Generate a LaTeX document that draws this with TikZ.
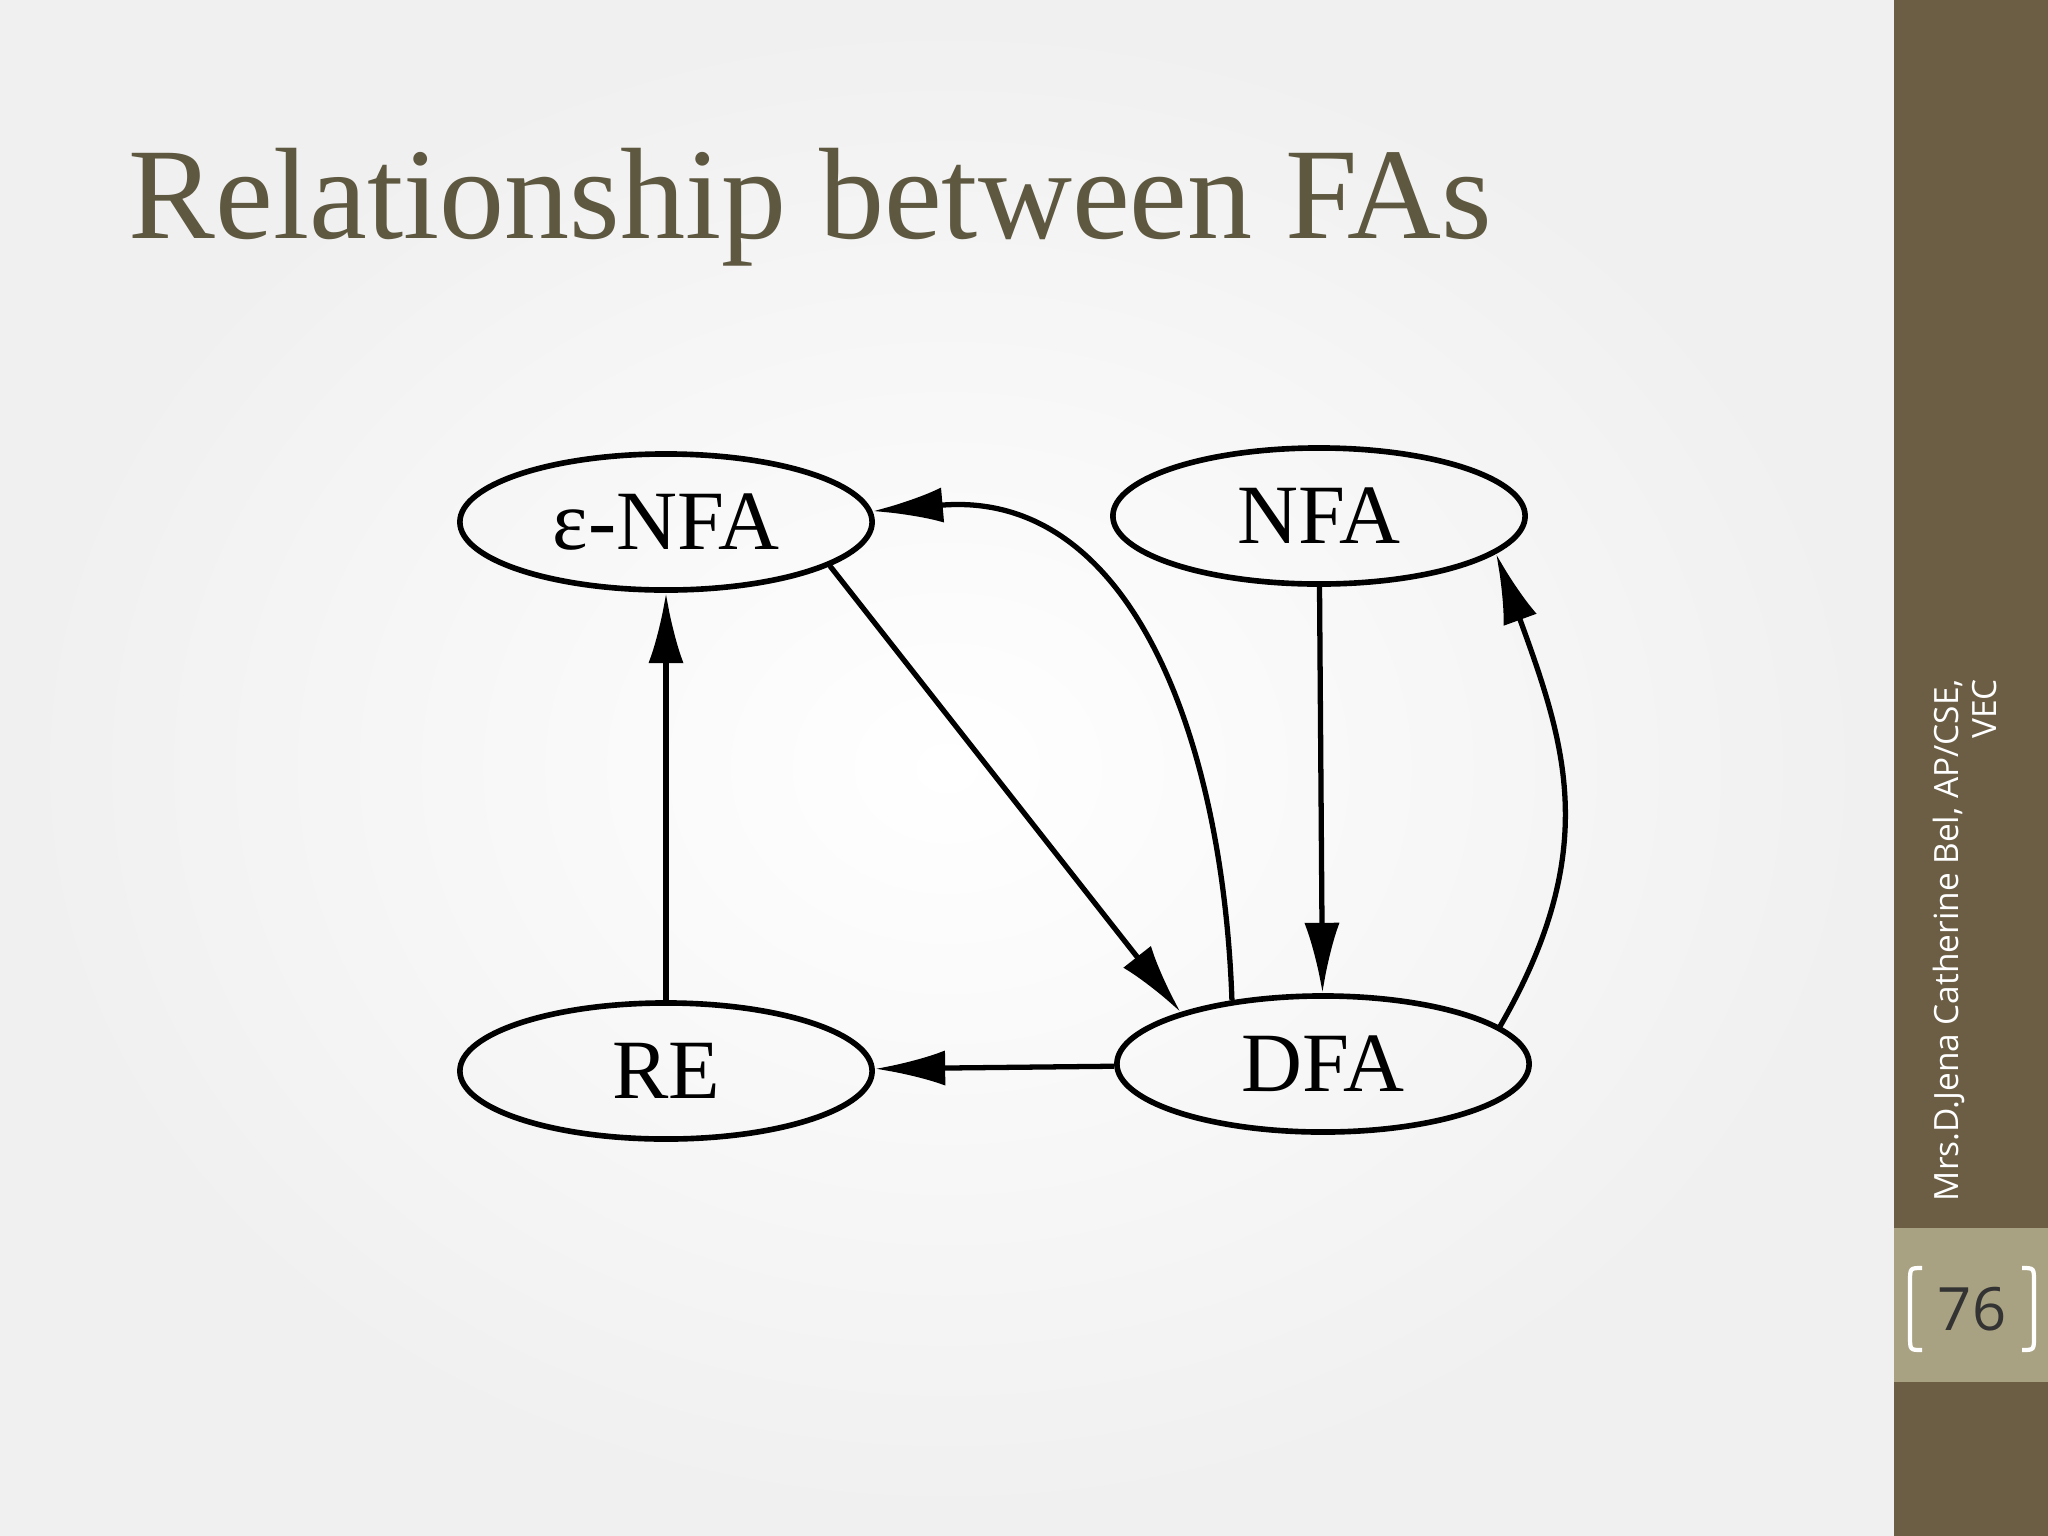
\documentclass[tikz,border=0pt]{standalone}
\usepackage{fontspec}
\setmainfont{Liberation Serif}
\newfontfamily\sidefont{Open Sans}
\usetikzlibrary{shapes.geometric,arrows.meta}
\definecolor{side}{HTML}{6B5E45}
\definecolor{sidelt}{HTML}{A9A282}
\definecolor{titlec}{HTML}{5E5840}
\begin{document}
\begin{tikzpicture}[x=0.01cm,y=-0.01cm,
  st/.style={ellipse,draw,line width=1.6pt,minimum width=4.12cm,minimum height=1.36cm,inner sep=0pt,font=\fontsize{24}{24}\selectfont},
  ar/.style={line width=1.5pt,-{Latex[length=20pt,width=10pt]}}]
\useasboundingbox (0,0) rectangle (2048,1536);
\shade[inner color=white,outer color=black!6] (0,0) rectangle (1894,1536);
\fill[side] (1894,0) rectangle (2048,1536);
\fill[sidelt] (1894,1228) rectangle (2048,1382);
\draw[white,line width=1.2pt] (1922,1268) .. controls (1910,1268) .. (1910,1282) -- (1910,1336) .. controls (1910,1350) .. (1922,1350);
\draw[white,line width=1.2pt] (2022,1268) .. controls (2034,1268) .. (2034,1282) -- (2034,1336) .. controls (2034,1350) .. (2022,1350);
\node (pg) at (1972,1309) {\sidefont\fontsize{17}{17}\selectfont\color{black!80}76};
\node[rotate=90,align=center,font=\sidefont\fontsize{9.5}{11}\selectfont,text=white] (auth) at (1965,940) {Mrs.D.Jena Catherine Bel, AP/CSE,\\ \hfill VEC};
\node[anchor=base west,inner sep=0pt,text=titlec,font=\fontsize{37}{37}\selectfont] (title) at (128,238) {Relationship between FAs};
\node[st] (enfa) at (666,522) {ε-NFA};
\node[st] (nfa) at (1319,516) {NFA};
\node[st] (re) at (666,1071) {RE};
\node[st] (dfa) at (1323,1064) {DFA};
\draw[ar] (re) -- (enfa);
\draw[ar] (nfa) -- (dfa);
\draw[ar] (dfa) -- (re);
\draw[ar] (enfa.-15) -- (dfa.160);
\draw[ar] (dfa.145) to[out=92,in=5,looseness=1.1] (enfa.3);
\draw[ar] (dfa.12) to[out=60,in=-70,looseness=1.1] (nfa.-12);
\end{tikzpicture}
\end{document}
